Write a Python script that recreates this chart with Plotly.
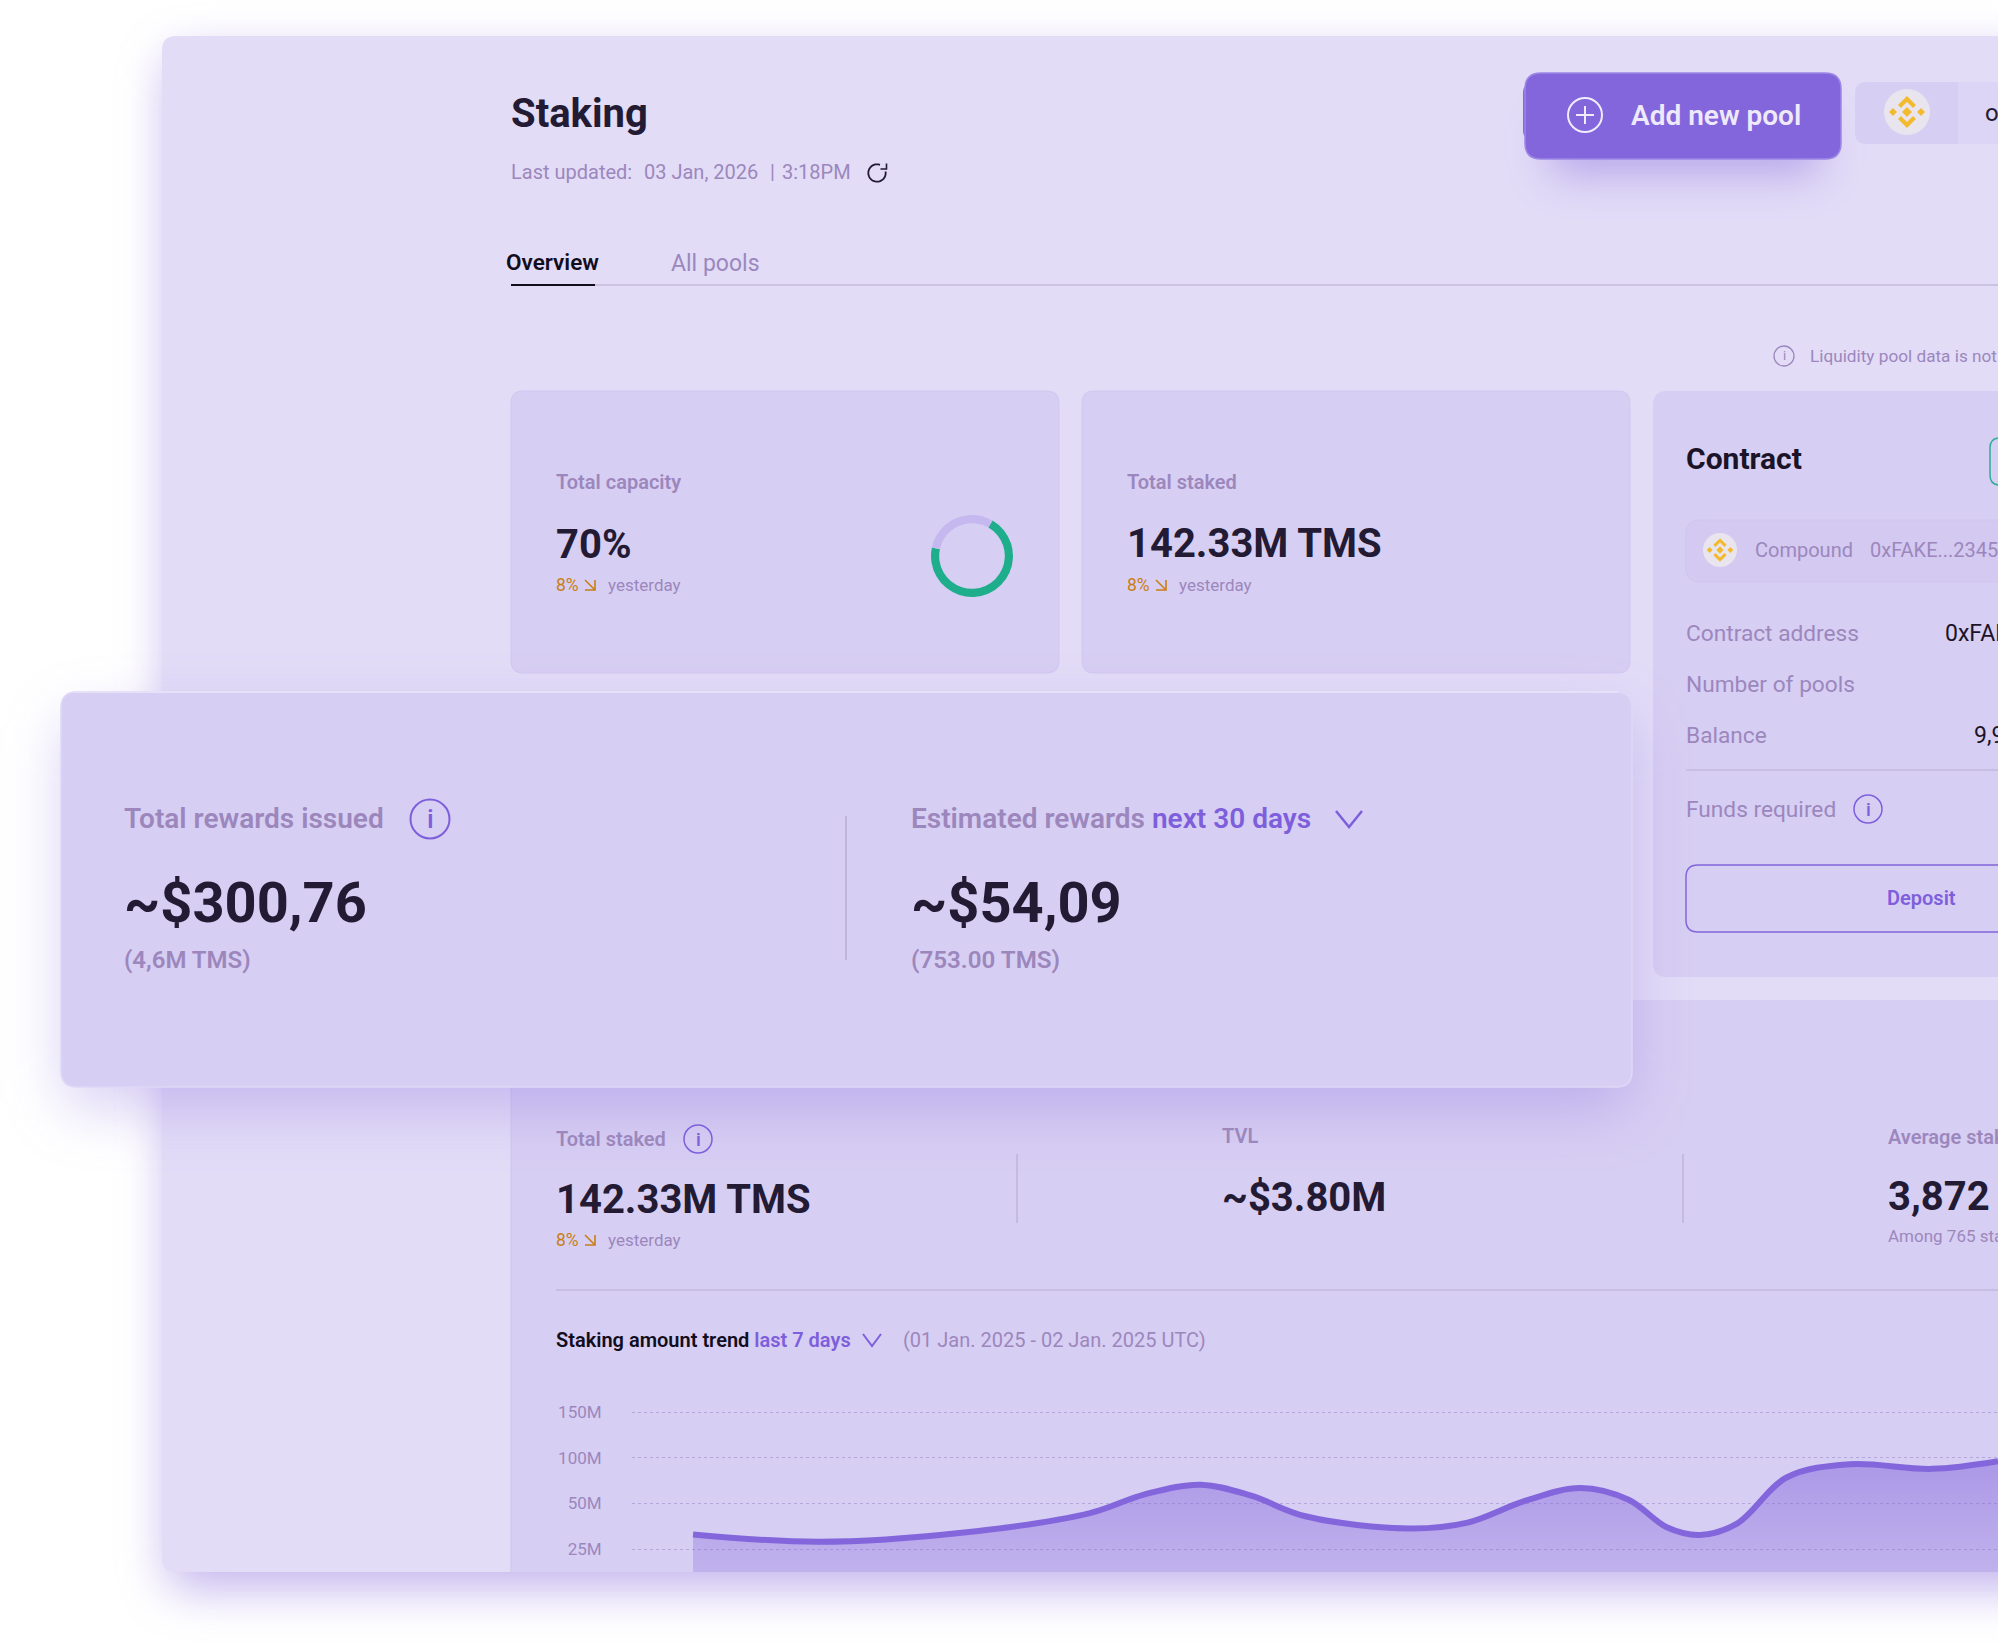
import json
import numpy as np
import plotly.graph_objects as go

W = 1998
H = 1645

# staking trend (day since start, amount in millions)
trend_day = [0, .627, 1.35, 1.977, 2.25, 2.53, 2.78, 3.05, 3.568, 3.858,
             4.147, 4.42, 4.66, 4.85, 5.015, 5.2, 5.449, 5.762, 6.172, 6.5]
trend_amount = [33.0, 29.0, 34.1, 44.7, 60.0, 70.6, 58.5, 43.0, 36.3, 39.5,
                53.0, 66.9, 54.0, 37.0, 32.8, 39.0, 78.7, 93.0, 87.9, 96.3]
tick_amounts = [25, 50, 100, 150]
tick_labels = ["25M", "50M", "100M", "150M"]
tick_bands = [0.5, 1.5, 2.5, 3.5]

capacity_labels = ["used", "free"]
capacity_values = [70, 30]

DARK = "#231a33"
MUTED = "#9c87bd"
PURPLE = "#8366dc"
BLUE_TXT = "#7d5fdc"
ORANGE = "#c97f14"
PANEL = "#e2dcf7"
CARD = "#d7cef3"
LINE = "#c3b8e0"
FONT = "Roboto"

shapes = []
notes = []
blurs = {}


def px(x):
    return x / W


def py(y):
    return 1 - y / H


def pt(x, y):
    return f"{px(x):.5f},{py(y):.5f}"


def round_path(x0, y0, x1, y1, r):
    return (f"M{pt(x0 + r, y0)} L{pt(x1 - r, y0)} Q{pt(x1, y0)} {pt(x1, y0 + r)} "
            f"L{pt(x1, y1 - r)} Q{pt(x1, y1)} {pt(x1 - r, y1)} L{pt(x0 + r, y1)} "
            f"Q{pt(x0, y1)} {pt(x0, y1 - r)} L{pt(x0, y0 + r)} Q{pt(x0, y0)} {pt(x0 + r, y0)} Z")


def box(x0, y0, x1, y1, r=0, fill=None, line=None, lw=0):
    shapes.append(dict(type="path", path=round_path(x0, y0, x1, y1, r), xref="paper", yref="paper",
                       fillcolor=fill or "rgba(0,0,0,0)", layer="below",
                       line=dict(color=line or "rgba(0,0,0,0)", width=lw)))


def shadow(x0, y0, x1, y1, r, sigma, dy, alpha):
    # a plain shape, the page script below blurs it
    blurs[len(shapes)] = sigma
    box(x0, y0 + dy, x1, y1 + dy, r, f"rgba(131,102,220,{alpha})")


def seg(x0, y0, x1, y1, color=LINE, lw=1.5):
    shapes.append(dict(type="line", x0=px(x0), y0=py(y0), x1=px(x1), y1=py(y1), xref="paper", yref="paper",
                       layer="below", line=dict(color=color, width=lw)))


def poly(points, color, lw=2, fill=None, closed=False):
    p = "M" + " L".join(pt(x, y) for x, y in points) + (" Z" if closed else "")
    shapes.append(dict(type="path", path=p, xref="paper", yref="paper", layer="below",
                       fillcolor=fill or "rgba(0,0,0,0)",
                       line=dict(color=color if lw else "rgba(0,0,0,0)", width=lw)))


def circle(cx, cy, r, fill=None, line=None, lw=0):
    shapes.append(dict(type="circle", x0=px(cx - r), x1=px(cx + r), y0=py(cy - r), y1=py(cy + r),
                       xref="paper", yref="paper", layer="below", fillcolor=fill or "rgba(0,0,0,0)",
                       line=dict(color=line or "rgba(0,0,0,0)", width=lw)))


def label(x, y, text, size, color=MUTED, weight=400, anchor="left"):
    notes.append(dict(x=px(x), y=py(y), xref="paper", yref="paper", text=text, showarrow=False,
                      xanchor=anchor, yanchor="middle", align=anchor, borderpad=0, borderwidth=0,
                      font=dict(family=FONT, size=size, color=color, weight=weight)))


def info(cx, cy, r, lw=1.8, color=BLUE_TXT):
    circle(cx, cy, r, line=color, lw=lw)
    label(cx, cy, "i", r * 1.35, color, 500, "center")


def chevron(cx, cy, w, h, color=BLUE_TXT, lw=2.5):
    poly([(cx - w, cy - h), (cx, cy + h), (cx + w, cy - h)], color, lw)


def down_arrow(cx, cy):
    poly([(cx - 5, cy - 5), (cx + 5, cy + 5)], ORANGE, 1.6)
    poly([(cx - 5, cy + 5), (cx + 5, cy + 5), (cx + 5, cy - 5)], ORANGE, 1.6)


def coin(cx, cy, r):
    circle(cx, cy, r, fill="#e9e5ee")
    s = r / 23
    gold = "#f3ba2f"

    def dia(x, y, d):
        poly([(x, y - d), (x + d, y), (x, y + d), (x - d, y)], gold, 0, gold, True)

    dia(cx, cy, 5 * s)
    dia(cx - 14 * s, cy, 4 * s)
    dia(cx + 14 * s, cy, 4 * s)
    poly([(cx, cy - 16 * s), (cx + 9 * s, cy - 7 * s), (cx + 6 * s, cy - 4 * s), (cx, cy - 10 * s),
          (cx - 6 * s, cy - 4 * s), (cx - 9 * s, cy - 7 * s)], gold, 0, gold, True)
    poly([(cx, cy + 16 * s), (cx + 9 * s, cy + 7 * s), (cx + 6 * s, cy + 4 * s), (cx, cy + 10 * s),
          (cx - 6 * s, cy + 4 * s), (cx - 9 * s, cy + 7 * s)], gold, 0, gold, True)


def delta_row(x, y):
    label(x, y, "8%", 17.5, ORANGE)
    down_arrow(x + 34, y)
    label(x + 52, y, "yesterday", 17, MUTED)


# main panel
shadow(168, 40, 2100, 1572, 16, 24, 16, 0.50)
box(162, 36, 2040, 1572, 14, PANEL)

# header
label(511, 113, "Staking", 40, DARK, 700)
label(511, 172, "Last updated:", 20, MUTED)
label(644, 172, "03 Jan, 2026", 20, MUTED)
label(770, 172, "|", 20, MUTED)
label(782, 172, "3:18PM", 20, MUTED)
ang = np.radians(np.linspace(80, 380, 30))
poly([(877 + 8.7 * np.sin(a), 173 - 8.7 * np.cos(a)) for a in ang], DARK, 1.8)
poly([(886.5, 163.5), (886.5, 169), (880.5, 169)], DARK, 1.6)
label(506, 262, "Overview", 22.5, "#120d1c", 600)
label(671, 264, "All pools", 23, MUTED)
seg(511, 285, 2040, 285, "#c4bada", 1.5)
seg(511, 285, 595, 285, "#120d1c", 2)
circle(1784, 356, 10, line=MUTED, lw=1.3)
label(1784, 356, "i", 13, MUTED, 400, "center")
label(1810, 356, "Liquidity pool data is not", 17.2, MUTED)

# add button and network pill
shadow(1550, 95, 1820, 150, 16, 20, 24, 0.45)
box(1523, 83, 1560, 140, 10, "#7f6bd6")
box(1525, 73, 1841, 159, 16, PURPLE, "#9c86e6", 1.5)
circle(1585, 115, 17, line="#f0ecfb", lw=2)
seg(1576, 115, 1594, 115, "#f0ecfb", 2)
seg(1585, 106, 1585, 124, "#f0ecfb", 2)
label(1631, 115, "Add new pool", 28, "#efeafb", 600)
box(1855, 82, 2040, 144, 12, "#ddd5f5")
box(1855, 82, 1958, 144, 12, CARD)
box(1940, 82, 1958, 144, 0, CARD)
coin(1907, 112, 23)
label(1985, 113, "o", 24, DARK)

# top cards
box(511, 391, 1059, 673, 12, CARD, "#d2c8f0", 1)
box(1082, 391, 1630, 673, 12, CARD, "#d2c8f0", 1)
label(556, 482, "Total capacity", 20, MUTED, 600)
label(556, 544, "70%", 40, DARK, 700)
delta_row(556, 585)
label(1127, 482, "Total staked", 20, MUTED, 600)
label(1127, 543, "142.33M TMS", 40, DARK, 700)
delta_row(1127, 585)

# contract card
box(1653, 391, 2040, 977, 14, CARD)
label(1686, 458, "Contract", 30, "#1b1428", 700)
box(1990, 438, 2040, 485, 10, None, "#2cae97", 1.5)
box(1686, 520, 2040, 582, 14, "#d3c9f1", "#cfc5ee", 1)
coin(1720, 550, 17)
label(1755, 550, "Compound", 20, MUTED)
label(1870, 550, "0xFAKE...2345", 20, MUTED)
label(1686, 634, "Contract address", 22.7, MUTED)
label(1945, 634, "0xFAK", 23, "#1b1428")
label(1686, 684, "Number of pools", 22.7, MUTED)
label(1686, 735, "Balance", 22.7, MUTED)
label(1974, 735, "9,9", 23, "#1b1428")
seg(1686, 770, 2040, 770, "#c3b8e0", 1.5)
label(1686, 809, "Funds required", 22.7, MUTED)
info(1868, 809, 14, 1.5)
box(1686, 865, 2040, 932, 12, None, PURPLE, 1.5)
label(1921, 898, "Deposit", 20, BLUE_TXT, 600, "center")

# lower panel
box(511, 1000, 2040, 1572, 0, CARD)
seg(511, 1000, 511, 1572, "#d0c6ee", 1)

# rewards card
shadow(65, 700, 1628, 1087, 16, 30, 20, 0.32)
box(61, 692, 1632, 1087, 16, CARD, "#dfd8f6", 1.5)
seg(75, 692, 1618, 692, "#e6e0f9", 2)
label(124, 819, "Total rewards issued", 28, MUTED, 600)
info(430, 819, 19.5, 2)
label(124, 903, "~$300,76", 56, DARK, 700)
label(124, 960, "(4,6M TMS)", 24, MUTED, 600)
seg(846, 816, 846, 960, "#b8abd8", 1.5)
label(911, 819, f'Estimated rewards <span style="color:{BLUE_TXT}">next 30 days</span>', 28, MUTED, 600)
chevron(1349, 819, 13, 8)
label(911, 903, "~$54,09", 56, DARK, 700)
label(911, 960, "(753.00 TMS)", 24.2, MUTED, 600)

# lower stats
label(556, 1139, "Total staked", 20, MUTED, 600)
info(698, 1139, 14, 1.5)
label(556, 1199, "142.33M TMS", 40, DARK, 700)
delta_row(556, 1240)
seg(1017, 1154, 1017, 1223, "#bfb3dd", 1.5)
label(1222, 1136, "TVL", 20, MUTED, 600)
label(1222, 1197, "~$3.80M", 40, DARK, 700)
seg(1683, 1154, 1683, 1223, "#bfb3dd", 1.5)
label(1888, 1137, "Average staked", 20, MUTED, 600)
label(1888, 1196, "3,872", 40, DARK, 700)
label(1888, 1236, "Among 765 stakers", 17, MUTED)
seg(556, 1290, 2040, 1290, "#c3b8e0", 1.5)
label(556, 1340,
      f'<span style="color:#120d1c;font-weight:600">Staking amount trend</span> '
      f'<span style="color:{BLUE_TXT};font-weight:600">last 7 days</span>', 20)
chevron(872, 1340, 9, 6, lw=2)
label(903, 1340, "(01 Jan. 2025 - 02 Jan. 2025 UTC)", 20, MUTED)

# chart, axis bands are even although the ticks are not
trend_band = np.interp(trend_amount, tick_amounts, tick_bands)

fig = go.Figure()
fig.add_trace(go.Scatter(
    x=trend_day, y=trend_band, mode="lines", line=dict(color=PURPLE, width=6, shape="spline", smoothing=1),
    fill="tozeroy",
    fillgradient=dict(type="vertical", colorscale=[[0, "rgba(131,102,220,0.27)"], [1, "rgba(131,102,220,0.52)"]]),
    hoverinfo="skip", showlegend=False))
fig.add_trace(go.Pie(
    labels=capacity_labels, values=capacity_values, hole=0.8, rotation=30, sort=False, direction="clockwise",
    marker=dict(colors=["#1fae8b", "#c5b8ef"], line=dict(width=0)), textinfo="none", hoverinfo="skip",
    showlegend=False, domain=dict(x=[px(931), px(1013)], y=[py(597), py(515)])))

fig.update_layout(
    width=W, height=H, margin=dict(l=0, r=0, t=0, b=0), autosize=False,
    paper_bgcolor="white", plot_bgcolor="rgba(0,0,0,0)",
    font=dict(family=FONT),
    shapes=shapes, annotations=notes,
    xaxis=dict(domain=[px(632), 1], range=[-0.304, 6.5], visible=False),
    yaxis=dict(domain=[py(1572), py(1400)], range=[0, 3.765], tickmode="array", tickvals=tick_bands,
               ticktext=tick_labels, showgrid=True, griddash="dot", gridcolor="#b5a7da", gridwidth=1,
               zeroline=False, showline=False, ticks="outside", ticklen=26, tickcolor="rgba(0,0,0,0)",
               tickfont=dict(family=FONT, size=17, color=MUTED)),
)

# body margin off, and blur the shadow shapes
script = """
document.body.style.margin='0';document.body.style.overflow='hidden';
var blurs = %s;
Object.keys(blurs).forEach(function(i){
  var el = document.querySelector('.shapelayer path[data-index="'+i+'"]');
  if(el){ el.style.filter = 'blur('+blurs[i]+'px)'; }
});
""" % json.dumps(blurs)
fig.write_html("out.html", config={"displayModeBar": False}, post_script=script)
